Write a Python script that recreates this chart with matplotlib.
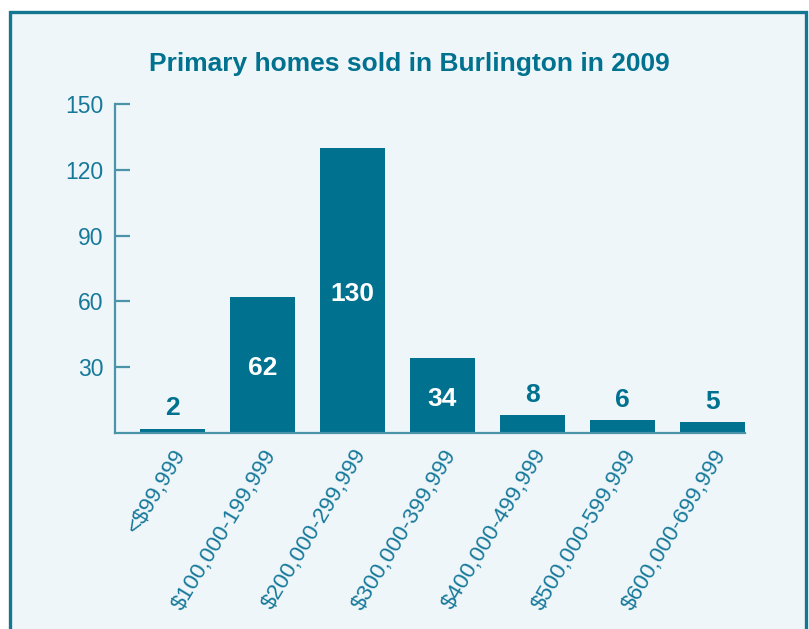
import matplotlib
matplotlib.use("Agg")
import matplotlib.pyplot as plt
from matplotlib.patches import Rectangle

categories = ["<$99,999", "$100,000-199,999", "$200,000-299,999", "$300,000-399,999",
              "$400,000-499,999", "$500,000-599,999", "$600,000-699,999"]
values = [2, 62, 130, 34, 8, 6, 5]
yticks = [30, 60, 90, 120, 150]
inside = [False, True, True, True, False, False, False]

BAR = "#00718F"
TXT = "#17799A"
BG = "#EEF6F9"
SPINE = "#4A93A8"

plt.rcParams["font.family"] = ["Liberation Sans", "DejaVu Sans"]

fig = plt.figure(figsize=(8.09, 6.29), dpi=100)
fig.patch.set_facecolor("white")
frame = Rectangle((10/809, -0.05), 796/809, 1.05 - 12/629, transform=fig.transFigure,
                  facecolor=BG, edgecolor="#137792", linewidth=2.4, zorder=-5)
fig.patches.append(frame)

ax = fig.add_axes([115/809, 196/629, 630/809, 329/629])
ax.set_zorder(5)
ax.set_facecolor("none")
x = list(range(len(categories)))
ax.bar(x, values, width=0.722, color=BAR, zorder=2)
ax.set_xlim(-0.639, 6.361)
ax.set_ylim(0, 150)
ax.set_yticks(yticks)
ax.tick_params(axis="y", direction="in", length=11, width=1.6, color=SPINE,
               labelcolor=TXT, labelsize=16.5, pad=8.5)
ax.set_xticks(x)
ax.set_xticklabels(categories, rotation=59, ha="right", va="top",
                   rotation_mode="anchor", color=TXT, fontsize=16.2)
ax.tick_params(axis="x", length=0, pad=9)
for s in ["top", "right"]:
    ax.spines[s].set_visible(False)
for s in ["left", "bottom"]:
    ax.spines[s].set_color(SPINE)
    ax.spines[s].set_linewidth(1.6)

for xi, v, ins in zip(x, values, inside):
    if ins:
        ax.annotate(str(v), (xi, v / 2), xytext=(0, -2.5), textcoords="offset points",
                    ha="center", va="center", color="white",
                    fontsize=19, fontweight="bold", zorder=3)
    else:
        ax.annotate(str(v), (xi, v), xytext=(0, 6), textcoords="offset points",
                    ha="center", va="bottom", color=BAR, fontsize=19,
                    fontweight="bold", zorder=3)

fig.text(409/809, 1 - 64/629, "Primary homes sold in Burlington in 2009",
         ha="center", va="center", color=BAR, fontsize=19, fontweight="bold")

fig.savefig("out.png", dpi=100, facecolor=fig.get_facecolor())
